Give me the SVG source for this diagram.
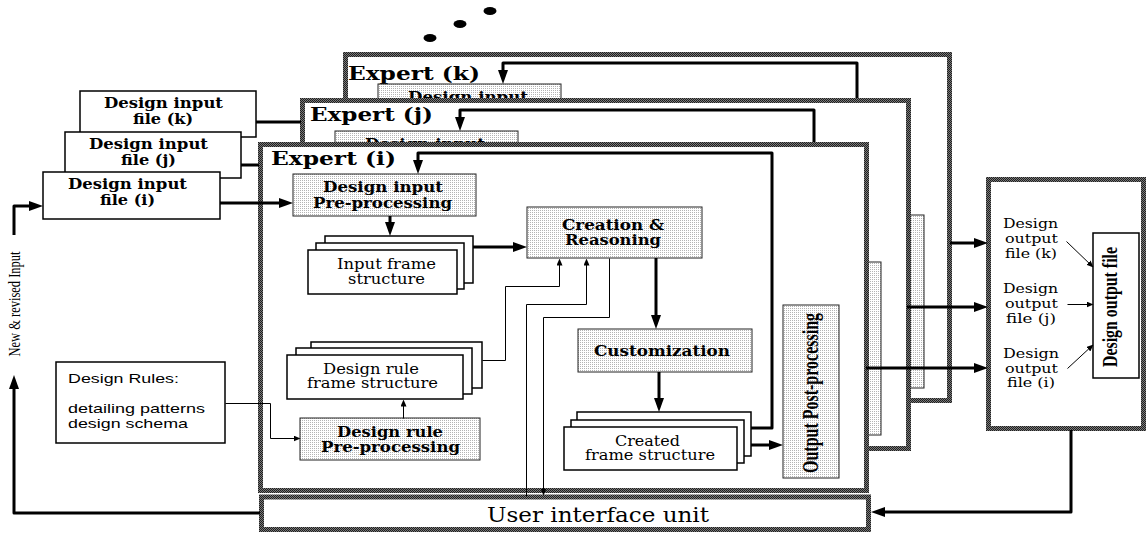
<svg xmlns="http://www.w3.org/2000/svg" width="1146" height="534" viewBox="0 0 1146 534">
<defs>
<pattern id="grayBorder" width="2" height="2" patternUnits="userSpaceOnUse"><rect width="2" height="2" fill="#7a7a7a"/><rect width="1" height="1" fill="#1e1e1e"/><rect x="1" y="1" width="1" height="1" fill="#1e1e1e"/></pattern>
<pattern id="stipple" width="2" height="2" patternUnits="userSpaceOnUse"><rect width="2" height="2" fill="#fff"/><rect width="1" height="1" fill="#b4b4b4"/></pattern>
<marker id="ah" viewBox="0 0 14 10" refX="4" refY="5" markerWidth="14" markerHeight="10" markerUnits="userSpaceOnUse" orient="auto"><path d="M0,0 L14,5 L0,10 z" fill="#000"/></marker>
<marker id="at" viewBox="0 0 7 6" refX="2" refY="3" markerWidth="7" markerHeight="6" markerUnits="userSpaceOnUse" orient="auto"><path d="M0,0 L7,3 L0,6 z" fill="#000"/></marker>
</defs>
<style>
.frame{fill:#fff;stroke:url(#grayBorder);stroke-width:5}
.box{fill:#fff;stroke:#000;stroke-width:1.5}
.proc{fill:url(#stipple);stroke:#222;stroke-width:1}
.thick{fill:none;stroke:#000;stroke-width:3;stroke-linejoin:round}
.thin{fill:none;stroke:#000;stroke-width:1}
.tb{font-family:"DejaVu Serif",serif;font-weight:bold;fill:#000}
.tr{font-family:"DejaVu Serif",serif;fill:#000}
.sans{font-family:"Liberation Sans",Arial,sans-serif;font-size:13.5px;fill:#000}
.vt{font-family:"Liberation Serif","Times New Roman",serif;fill:#000}
</style>
<rect width="1146" height="534" fill="#fff"/>

<g id="dots">
<ellipse cx="430" cy="38" rx="6.5" ry="4"/>
<ellipse cx="460" cy="24" rx="6.5" ry="4"/>
<ellipse cx="490" cy="11" rx="6.5" ry="4"/>
</g>

<g id="expert-k">
<rect class="frame" x="345.5" y="54.5" width="604" height="346"/>
<text class="tb" x="348" y="80" font-size="19" textLength="132" lengthAdjust="spacingAndGlyphs">Expert (k)</text>
<g transform="translate(85,-90)">
<rect class="proc" x="293" y="174" width="183" height="42"/>
<text class="tb" x="323" y="192" font-size="14" textLength="120" lengthAdjust="spacingAndGlyphs">Design input</text>
<rect class="proc" x="783" y="305" width="56" height="173"/>
</g>
</g>
<g id="connectors-k">
<path class="thick" transform="translate(85,-90)" d="M751,428 H772 V153 H418 V164" marker-end="url(#ah)"/>
</g>

<g id="expert-j">
<rect class="frame" x="302.5" y="100.5" width="606" height="348"/>
<text class="tb" x="310" y="121" font-size="19" textLength="123" lengthAdjust="spacingAndGlyphs">Expert (j)</text>
<g transform="translate(42,-43)">
<rect class="proc" x="293" y="174" width="183" height="42"/>
<text class="tb" x="323" y="192" font-size="14" textLength="120" lengthAdjust="spacingAndGlyphs">Design input</text>
<rect class="proc" x="783" y="305" width="56" height="173"/>
</g>
</g>
<g id="connectors-j">
<path class="thick" transform="translate(42,-43)" d="M751,428 H772 V153 H418 V164" marker-end="url(#ah)"/>
</g>

<g id="file-k">
<rect class="box" x="80" y="91" width="176" height="46"/>
<text class="tb" x="104" y="108" font-size="15" textLength="119" lengthAdjust="spacingAndGlyphs">Design input</text>
<text class="tb" x="133" y="124" font-size="15" textLength="60" lengthAdjust="spacingAndGlyphs">file (k)</text>
</g>
<g id="file-j">
<rect class="box" x="65" y="132" width="176" height="46"/>
<text class="tb" x="89" y="149" font-size="15" textLength="119" lengthAdjust="spacingAndGlyphs">Design input</text>
<text class="tb" x="121" y="165" font-size="15" textLength="55" lengthAdjust="spacingAndGlyphs">file (j)</text>
</g>
<g id="file-i">
<rect class="box" x="43" y="172" width="177" height="47"/>
<text class="tb" x="68" y="189" font-size="15" textLength="119" lengthAdjust="spacingAndGlyphs">Design input</text>
<text class="tb" x="100" y="205" font-size="15" textLength="55" lengthAdjust="spacingAndGlyphs">file (i)</text>
</g>

<g id="design-rules">
<rect class="box" x="56" y="362" width="169" height="81" stroke="#333"/>
<text class="sans" x="68" y="383" textLength="111" lengthAdjust="spacingAndGlyphs">Design Rules:</text>
<text class="sans" x="68" y="413" textLength="137" lengthAdjust="spacingAndGlyphs">detailing patterns</text>
<text class="sans" x="68" y="428" textLength="120" lengthAdjust="spacingAndGlyphs">design schema</text>
</g>

<g id="expert-i">
<rect class="frame" x="260.5" y="144.5" width="606" height="346"/>
<text class="tb" x="271" y="165" font-size="19" textLength="125" lengthAdjust="spacingAndGlyphs">Expert (i)</text>
</g>

<g id="design-input-preprocessing">
<rect class="proc" x="293" y="174" width="183" height="42"/>
<text class="tb" x="323" y="192" font-size="14" textLength="120" lengthAdjust="spacingAndGlyphs">Design input</text>
<text class="tb" x="313" y="208" font-size="14" textLength="139" lengthAdjust="spacingAndGlyphs">Pre-processing</text>
</g>

<g id="input-frame-structure">
<rect class="box" x="325" y="236" width="148" height="47"/>
<rect class="box" x="316" y="243" width="148" height="46"/>
<rect class="box" x="308" y="250" width="149" height="44"/>
<text class="tr" x="337" y="269" font-size="14" textLength="99" lengthAdjust="spacingAndGlyphs">Input frame</text>
<text class="tr" x="348" y="284" font-size="14" textLength="77" lengthAdjust="spacingAndGlyphs">structure</text>
</g>

<g id="creation-reasoning">
<rect class="proc" x="527" y="207" width="175" height="51"/>
<text class="tb" x="562" y="230" font-size="14" textLength="102" lengthAdjust="spacingAndGlyphs">Creation &amp;</text>
<text class="tb" x="565" y="245" font-size="14" textLength="96" lengthAdjust="spacingAndGlyphs">Reasoning</text>
</g>

<g id="design-rule-frame-structure">
<rect class="box" x="311" y="342" width="171" height="46"/>
<rect class="box" x="296" y="348" width="176" height="46"/>
<rect class="box" x="287" y="355" width="176" height="44"/>
<text class="tr" x="323" y="374" font-size="14" textLength="96" lengthAdjust="spacingAndGlyphs">Design rule</text>
<text class="tr" x="307" y="388" font-size="14" textLength="131" lengthAdjust="spacingAndGlyphs">frame structure</text>
</g>

<g id="design-rule-preprocessing">
<rect class="proc" x="300" y="418" width="180" height="42"/>
<text class="tb" x="337" y="437" font-size="14" textLength="106" lengthAdjust="spacingAndGlyphs">Design rule</text>
<text class="tb" x="321" y="452" font-size="14" textLength="139" lengthAdjust="spacingAndGlyphs">Pre-processing</text>
</g>

<g id="customization">
<rect class="proc" x="578" y="329" width="174" height="43"/>
<text class="tb" x="594" y="356" font-size="14" textLength="136" lengthAdjust="spacingAndGlyphs">Customization</text>
</g>

<g id="created-frame-structure">
<rect class="box" x="577" y="412" width="174" height="44"/>
<rect class="box" x="571" y="420" width="173" height="43"/>
<rect class="box" x="564" y="427" width="173" height="43"/>
<text class="tr" x="615" y="446" font-size="14" textLength="65" lengthAdjust="spacingAndGlyphs">Created</text>
<text class="tr" x="585" y="460" font-size="14" textLength="130" lengthAdjust="spacingAndGlyphs">frame structure</text>
</g>

<g id="output-postprocessing">
<rect class="proc" x="783" y="305" width="56" height="173"/>
<text class="vt" font-weight="bold" font-size="16" text-anchor="middle" textLength="160" lengthAdjust="spacingAndGlyphs" transform="translate(818,393) scale(1.4,1) rotate(-90)">Output Post-processing</text>
</g>

<g id="user-interface-unit">
<rect class="frame" x="261.5" y="497" width="607" height="32.5"/>
<text class="tr" x="487" y="522" font-size="21" textLength="222" lengthAdjust="spacingAndGlyphs">User interface unit</text>
</g>

<g id="output-unit">
<rect class="frame" x="988.5" y="179.5" width="155" height="249"/>
<text class="tr" x="1003" y="228" font-size="13" textLength="55" lengthAdjust="spacingAndGlyphs">Design</text>
<text class="tr" x="1005" y="243" font-size="13" textLength="53" lengthAdjust="spacingAndGlyphs">output</text>
<text class="tr" x="1005" y="258" font-size="13" textLength="52" lengthAdjust="spacingAndGlyphs">file (k)</text>
<text class="tr" x="1003" y="293" font-size="13" textLength="55" lengthAdjust="spacingAndGlyphs">Design</text>
<text class="tr" x="1005" y="308" font-size="13" textLength="53" lengthAdjust="spacingAndGlyphs">output</text>
<text class="tr" x="1006" y="323" font-size="13" textLength="50" lengthAdjust="spacingAndGlyphs">file (j)</text>
<text class="tr" x="1003" y="358" font-size="13" textLength="56" lengthAdjust="spacingAndGlyphs">Design</text>
<text class="tr" x="1005" y="373" font-size="13" textLength="53" lengthAdjust="spacingAndGlyphs">output</text>
<text class="tr" x="1007" y="387" font-size="13" textLength="48" lengthAdjust="spacingAndGlyphs">file (i)</text>
</g>
<g id="design-output-file">
<rect class="box" x="1093" y="233" width="46" height="145"/>
<text class="vt" font-weight="bold" font-size="16" text-anchor="middle" textLength="120" lengthAdjust="spacingAndGlyphs" transform="translate(1117,307) scale(1.35,1) rotate(-90)">Design output file</text>
</g>

<g id="label-new-input">
<text class="vt" font-size="13" text-anchor="middle" textLength="105" lengthAdjust="spacingAndGlyphs" transform="translate(20,304) scale(1.3,1) rotate(-90)">New &amp; revised Input</text>
</g>

<g id="connectors">
<path class="thick" d="M256,122 H301"/>
<path class="thick" d="M241,165 H259"/>
<path class="thick" d="M220,203 H283" marker-end="url(#ah)"/>
<path class="thick" d="M14,235 V206 H33" marker-end="url(#ah)"/>
<path class="thick" d="M260,513 H14 V385" marker-end="url(#ah)"/>
<path class="thick" d="M390,216 V226" marker-end="url(#ah)"/>
<path class="thick" d="M473,247 H517" marker-end="url(#ah)"/>
<path class="thick" d="M656,258 V319" marker-end="url(#ah)"/>
<path class="thick" d="M659,372 V402" marker-end="url(#ah)"/>
<path class="thick" d="M751,445 H773" marker-end="url(#ah)"/>
<path class="thick" d="M751,428 H772 V153 H418 V164" marker-end="url(#ah)"/>
<path class="thick" d="M950,243 H978" marker-end="url(#ah)"/>
<path class="thick" d="M907,307 H978" marker-end="url(#ah)"/>
<path class="thick" d="M866,368 H978" marker-end="url(#ah)"/>
<path class="thick" d="M1071,430 V512 H881" marker-end="url(#ah)"/>
<g transform="translate(0.5,0.5)">
<path class="thin" d="M225,403 H270 V438 H295" marker-end="url(#at)"/>
<path class="thin" d="M403,418 V404" marker-end="url(#at)"/>
<path class="thin" d="M482,360 H505 V286 H559 V263" marker-end="url(#at)"/>
<path class="thin" d="M526,496 V304 H586 V263" marker-end="url(#at)"/>
<path class="thin" d="M609,258 V317 H543 V490" marker-end="url(#at)"/>
<path class="thin" d="M1066,241 L1089.4,263.5" marker-end="url(#at)"/>
<path class="thin" d="M1067,304 H1088" marker-end="url(#at)"/>
<path class="thin" d="M1067,368 L1089.3,347.4" marker-end="url(#at)"/>
</g>
</g>
</svg>
